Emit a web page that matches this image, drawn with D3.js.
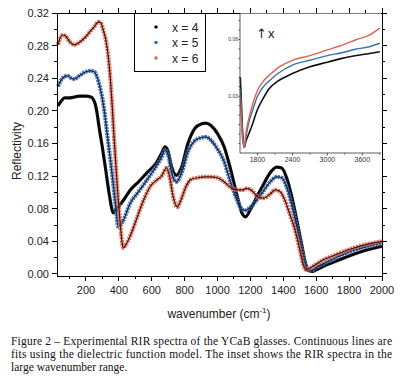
<!DOCTYPE html>
<html><head><meta charset="utf-8">
<script src="https://cdn.jsdelivr.net/npm/d3@7"></script>
<style>
html,body{margin:0;padding:0;background:#fff;}
svg{display:block;}
</style></head>
<body>
<svg id="chart" width="404" height="386"></svg>
<script>
// ---- Main spectra (wavenumber cm-1, reflectivity) ----
const wn4 = [30,50,70,100,130,160,200,230,245,257,267,280,300,320,340,355,365,380,400,430,470,520,570,630,660,680,700,720,750,780,820,860,900,930,960,1000,1040,1080,1120,1150,1170,1200,1240,1280,1320,1360,1390,1420,1450,1480,1510,1530,1550,1570,1600,1650,1700,1800,1900,2000];
const ref4 = [0.206,0.212,0.216,0.216,0.217,0.218,0.218,0.217,0.214,0.208,0.198,0.180,0.155,0.128,0.100,0.082,0.075,0.078,0.083,0.091,0.103,0.113,0.124,0.137,0.148,0.156,0.150,0.132,0.121,0.130,0.160,0.178,0.184,0.185,0.182,0.172,0.156,0.128,0.095,0.074,0.070,0.079,0.095,0.110,0.124,0.131,0.130,0.118,0.096,0.068,0.038,0.017,0.005,0.003,0.005,0.010,0.014,0.022,0.029,0.034];

const wn5 = [30,50,70,90,110,130,160,200,230,250,267,285,300,315,330,350,365,380,396,420,470,520,570,630,660,680,700,720,750,780,820,860,900,930,960,1000,1040,1080,1120,1150,1170,1200,1240,1280,1320,1360,1390,1420,1450,1480,1510,1530,1550,1570,1600,1650,1700,1800,1900,2000];
const ref5 = [0.230,0.238,0.242,0.243,0.240,0.239,0.243,0.248,0.249,0.248,0.242,0.229,0.215,0.195,0.170,0.138,0.112,0.085,0.058,0.063,0.087,0.101,0.115,0.133,0.143,0.152,0.146,0.125,0.113,0.123,0.150,0.163,0.167,0.168,0.164,0.153,0.138,0.112,0.090,0.079,0.078,0.082,0.091,0.102,0.113,0.119,0.118,0.107,0.086,0.060,0.032,0.014,0.005,0.004,0.008,0.013,0.018,0.027,0.033,0.038];

const wn6 = [30,45,60,75,100,130,160,190,220,250,275,290,305,320,335,350,360,370,380,390,400,410,420,428,440,470,500,530,560,590,630,660,690,710,730,755,780,810,840,880,920,960,1000,1040,1080,1120,1150,1180,1210,1250,1280,1320,1350,1380,1410,1440,1470,1500,1520,1540,1560,1600,1650,1700,1800,1900,2000];
const ref6 = [0.281,0.290,0.293,0.292,0.285,0.281,0.284,0.289,0.296,0.303,0.309,0.308,0.299,0.288,0.268,0.235,0.205,0.170,0.140,0.108,0.082,0.058,0.038,0.032,0.035,0.047,0.063,0.080,0.095,0.107,0.115,0.120,0.130,0.118,0.095,0.082,0.092,0.108,0.116,0.118,0.119,0.119,0.118,0.113,0.106,0.103,0.103,0.105,0.102,0.094,0.093,0.098,0.103,0.101,0.090,0.073,0.055,0.030,0.012,0.005,0.007,0.012,0.018,0.022,0.030,0.036,0.040];

// ---- Inset (large wavenumber range) ----
const wnInset = [1505,1520,1540,1560,1575,1600,1650,1700,1800,1900,2000,2150,2400,2700,3000,3250,3500,3700,3900];
const inset4 = [0.040,0.030,0.014,0.005,0.003,0.006,0.010,0.014,0.023,0.029,0.034,0.038,0.042,0.0456,0.048,0.050,0.0515,0.0525,0.0535];
const inset5 = [0.034,0.025,0.012,0.005,0.003,0.008,0.016,0.021,0.030,0.035,0.038,0.042,0.0465,0.049,0.0515,0.053,0.055,0.056,0.058];
const inset6 = [0.030,0.020,0.008,0.005,0.003,0.010,0.018,0.024,0.033,0.038,0.041,0.045,0.049,0.0515,0.0545,0.057,0.060,0.062,0.066];

const seriesNames = ["x = 4","x = 5","x = 6"];
const xTicks = [200,400,600,800,1000,1200,1400,1600,1800,2000];
const yTicks = [0.00,0.04,0.08,0.12,0.16,0.20,0.24,0.28,0.32];
const insetXTicks = [1800,2400,3000,3600];
const insetYTicks = [0.03,0.06];

const captionLines = [
  "Figure 2 \u2013 Experimental RIR spectra of the YCaB glasses. Continuous lines are",
  "fits using the dielectric function model. The inset shows the RIR spectra in the",
  "large wavenumber range."
];

const dotColors = ["#111111","#3d6fb0","#d9654c"];
const lineColors = ["#000000","#13254d","#4a1208"];

const svg = d3.select("#chart");
const L=57, R=382, T=13, B=276;
const x = d3.scaleLinear().domain([24,2000]).range([L,R]);
const y = d3.scaleLinear().domain([-0.0025,0.32]).range([B,T]);
const font = "'Liberation Sans', Arial, sans-serif";

// curves: measured points (coloured band) + fit line (dark)
const main = [[wn4,ref4],[wn5,ref5],[wn6,ref6]];
const line = d3.line().x(d=>x(d[0])).y(d=>y(d[1])).curve(d3.curveMonotoneX);
const g = svg.append("g");
main.forEach((s,i)=>{
  const pts = s[0].map((v,j)=>[v,s[1][j]]);
  g.append("path").attr("d",line(pts)).attr("fill","none")
    .attr("stroke",dotColors[i]).attr("stroke-width",i===0?3.2:4.2).attr("stroke-opacity",i===0?1:0.9)
    .attr("stroke-linejoin","round").attr("stroke-dasharray",i===0?null:"2.2,0.8");
  g.append("path").attr("d",line(pts)).attr("fill","none")
    .attr("stroke",lineColors[i]).attr("stroke-width",1.2);
});

// axes frame
const axG = svg.append("g").attr("stroke","#000").attr("stroke-width",1).attr("shape-rendering","crispEdges");
axG.append("rect").attr("x",L).attr("y",T).attr("width",R-L).attr("height",B-T).attr("fill","none");

const xMinor = d3.range(100,2001,100);
const yMinor = d3.range(0,0.3201,0.02);
xMinor.forEach(v=>{
  const major = v%200===0; const len = major?5:3;
  axG.append("line").attr("x1",x(v)).attr("x2",x(v)).attr("y1",B).attr("y2",B+len);
  axG.append("line").attr("x1",x(v)).attr("x2",x(v)).attr("y1",T).attr("y2",T-len);
});
yMinor.forEach((v,k)=>{
  const major = k%2===0; const len = major?5:3;
  axG.append("line").attr("x1",L).attr("x2",L-len).attr("y1",y(v)).attr("y2",y(v));
  axG.append("line").attr("x1",R).attr("x2",R+len).attr("y1",y(v)).attr("y2",y(v));
});
svg.append("g").selectAll("text").data(xTicks).join("text")
  .attr("x",d=>x(d)).attr("y",294).attr("text-anchor","middle")
  .attr("font-family",font).attr("font-size",11).attr("fill","#222").text(d=>d);
svg.append("g").selectAll("text").data(yTicks).join("text")
  .attr("x",49).attr("y",d=>y(d)+4).attr("text-anchor","end")
  .attr("font-family",font).attr("font-size",11).attr("fill","#222").text(d=>d.toFixed(2));

// axis titles
svg.append("text").attr("transform","translate(21,151) rotate(-90)").attr("text-anchor","middle")
  .attr("font-family",font).attr("font-size",12).attr("fill","#222").text("Reflectivity");
const xl = svg.append("text").attr("x",219).attr("y",318).attr("text-anchor","middle")
  .attr("font-family",font).attr("font-size",12).attr("fill","#222");
xl.append("tspan").text("wavenumber (cm");
xl.append("tspan").attr("font-size",8).attr("dy",-5).text("-1");
xl.append("tspan").attr("dy",5).text(")");

// legend
svg.append("rect").attr("x",134).attr("y",T).attr("width",71).attr("height",58)
  .attr("fill","#fff").attr("stroke","#000").attr("stroke-width",1).attr("shape-rendering","crispEdges");
seriesNames.forEach((n,i)=>{
  const cy = 27 + i*15.5;
  svg.append("circle").attr("cx",156).attr("cy",cy).attr("r",1.8).attr("fill",dotColors[i]);
  svg.append("text").attr("x",172).attr("y",cy+4.5).attr("font-family",font).attr("font-size",12)
    .attr("fill","#222").text(n);
});

// inset
const iL=240, iR=381, iT=13, iB=153;
const xi = d3.scaleLinear().domain([1500,3920]).range([iL,iR]);
const yi = d3.scaleLinear().domain([0,0.074]).range([iB,iT]);
svg.append("rect").attr("x",iL).attr("y",iT+0.5).attr("width",iR-iL).attr("height",iB-iT).attr("fill","#fff");
const ilin = d3.line().x(d=>xi(d[0])).y(d=>yi(d[1])).curve(d3.curveMonotoneX);
[inset4,inset5,inset6].forEach((arr,i)=>{
  const pts = wnInset.map((v,j)=>[v,arr[j]]);
  svg.append("path").attr("d",ilin(pts)).attr("fill","none").attr("stroke",dotColors[i])
    .attr("stroke-width",i===0?1.6:1.4);
});
const iax = svg.append("g").attr("stroke","#333").attr("stroke-width",0.8);
iax.append("line").attr("x1",iL).attr("x2",iL).attr("y1",iT).attr("y2",iB);
iax.append("line").attr("x1",iL).attr("x2",iR).attr("y1",iB).attr("y2",iB);
d3.range(1800,3901,300).forEach(v=>{
  iax.append("line").attr("x1",xi(v)).attr("x2",xi(v)).attr("y1",iB).attr("y2",iB+(v%600===0?2.5:1.5));
});
d3.range(0.005,0.0741,0.005).forEach(v=>{
  iax.append("line").attr("x1",iL).attr("x2",iL-1.5).attr("y1",yi(v)).attr("y2",yi(v));
});
svg.append("g").selectAll("text").data(insetXTicks).join("text")
  .attr("x",d=>xi(d)).attr("y",162).attr("text-anchor","middle")
  .attr("font-family",font).attr("font-size",7).attr("fill","#333").text(d=>d);
svg.append("g").selectAll("text").data(insetYTicks).join("text")
  .attr("x",238).attr("y",d=>yi(d)+2).attr("text-anchor","end")
  .attr("font-family",font).attr("font-size",5).attr("fill","#333").text(d=>d.toFixed(2));
const arr = svg.append("text").attr("x",256).attr("y",38).attr("font-size",13).attr("fill","#222");
arr.append("tspan").attr("font-family","'DejaVu Sans', sans-serif").text("\u2191");
arr.append("tspan").attr("font-family",font).attr("dx",1).text("x");

// caption
const capFont = "'Liberation Serif', 'Times New Roman', serif";
captionLines.forEach((t,i)=>{
  const tx = svg.append("text").attr("x",11).attr("y",345+i*13)
    .attr("font-family",capFont).attr("font-size",11.5).attr("fill","#111").text(t);
  if(i<2) tx.attr("textLength",381).attr("lengthAdjust","spacing");
});
</script>
</body></html>
